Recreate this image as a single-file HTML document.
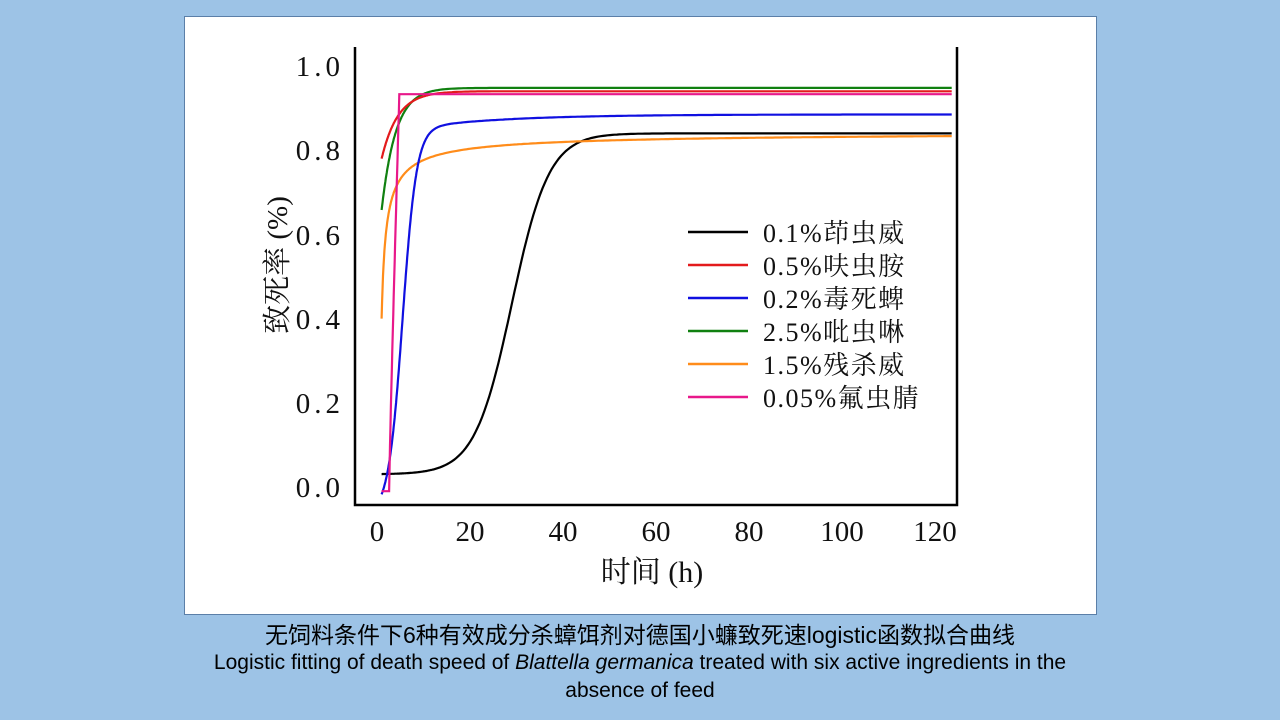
<!DOCTYPE html>
<html><head><meta charset="utf-8"><style>
body{margin:0;width:1280px;height:720px;background:#9dc3e6;overflow:hidden;position:relative;font-family:"Liberation Sans","Noto Sans CJK SC",sans-serif}
.box{position:absolute;left:184px;top:16px;width:911px;height:597px;background:#fff;border:1px solid #5b7fa8}
.cap{position:absolute;left:0;width:1280px;text-align:center;color:#000;line-height:28px}
</style></head><body>
<div class="box"></div>
<svg width="1280" height="720" style="position:absolute;left:0;top:0" font-family="'Liberation Serif','Noto Serif CJK SC',serif">
<g stroke="#000" stroke-width="2.5" fill="none">
<path d="M355,47 V505 H957 V47"/>
</g>
<g font-size="29" fill="#111" text-anchor="end" letter-spacing="4">
<text x="344" y="76">1.0</text><text x="344" y="160">0.8</text><text x="344" y="245">0.6</text>
<text x="344" y="329">0.4</text><text x="344" y="413">0.2</text><text x="344" y="497">0.0</text>
</g>
<g font-size="29" fill="#111" text-anchor="middle">
<text x="377" y="541">0</text><text x="470" y="541">20</text><text x="563" y="541">40</text>
<text x="656" y="541">60</text><text x="749" y="541">80</text><text x="842" y="541">100</text><text x="935" y="541">120</text>
</g>
<text x="652" y="582" font-size="30" text-anchor="middle" fill="#111">时间 (h)</text>
<text transform="translate(287,265) rotate(-90)" font-size="29" text-anchor="middle" fill="#111">致死率 (%)</text>
<g id="curves" fill="none" stroke-width="2.2"></g>
<g stroke-width="2.5">
<line x1="688" y1="232" x2="748" y2="232" stroke="#000"/>
<line x1="688" y1="265" x2="748" y2="265" stroke="#e31a1c"/>
<line x1="688" y1="298" x2="748" y2="298" stroke="#1010e0"/>
<line x1="688" y1="331" x2="748" y2="331" stroke="#108010"/>
<line x1="688" y1="364" x2="748" y2="364" stroke="#ff8c1a"/>
<line x1="688" y1="397" x2="748" y2="397" stroke="#e8188a"/>
</g>
<g font-size="26" fill="#111" letter-spacing="1.5">
<text x="763" y="242">0.1%茚虫威</text><text x="763" y="275">0.5%呋虫胺</text><text x="763" y="308">0.2%毒死蜱</text>
<text x="763" y="341">2.5%吡虫啉</text><text x="763" y="374">1.5%残杀威</text><text x="763" y="407">0.05%氟虫腈</text>
</g>
</svg>
<div class="cap" style="top:621px;font-size:23px">无饲料条件下6种有效成分杀蟑饵剂对德国小蠊致死速logistic函数拟合曲线</div>
<div class="cap" style="top:649px;font-size:21px">Logistic fitting of death speed of <i>Blattella germanica</i> treated with six active ingredients in the</div>
<div class="cap" style="top:677px;font-size:21px">absence of feed</div>
<script>
var X=t=>377+t*4.65,Y=v=>487-v*421;
var fs=[
["#000",t=>0.03+0.81/(1+Math.exp(-(t-29)/4))],
["#ff8c1a",t=>0.845-0.445*Math.pow(1/(1+1.5*(t-1)),0.7)],
["#1010e0",t=>-0.06+0.9/(1+Math.exp(-(t-5.5)/1.5))+0.045*(1-Math.exp(-(t-1)/20))],
["#108010",t=>0.948-0.29*Math.exp(-(t-1)/3)],
["#e31a1c",t=>0.94-0.16*Math.exp(-(t-1)/3.5)],
["#e8188a",t=>t<2.6?-0.01:(t<4.8?-0.01+0.943*Math.pow((t-2.6)/2.2,0.9):0.933)]
];
var g=document.getElementById('curves'),h='';
fs.forEach(function(f){var d='';for(var t=1;t<=124;t+=(t<12?0.1:0.5)){d+=(d?'L':'M')+X(t).toFixed(1)+','+Y(f[1](t)).toFixed(1);}h+='<path stroke="'+f[0]+'" d="'+d+'"/>';});
g.innerHTML=h;
</script>
</body></html>
